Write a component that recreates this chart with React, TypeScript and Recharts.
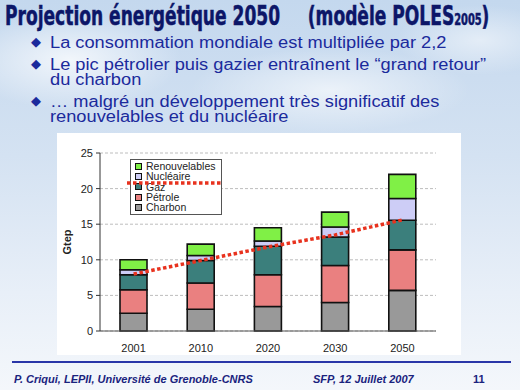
import React from 'react';
import {
  ComposedChart,
  Bar,
  Line,
  XAxis,
  YAxis,
  CartesianGrid,
  Legend,
} from 'recharts';

// Données (Gtep)
const annees = ['2001', '2010', '2020', '2030', '2050'];
const charbon = [2.5, 3.05, 3.45, 4.0, 5.7];
const petrole = [3.3, 3.7, 4.45, 5.2, 5.7];
const gaz = [2.1, 3.15, 4.0, 4.0, 4.15];
const nucleaire = [0.7, 0.7, 0.75, 1.4, 3.05];
const renouvelables = [1.4, 1.6, 1.85, 2.1, 3.4];
const tendance = [8.0, 9.9, 11.8, 13.5, 15.6];
const yTicks = [0, 5, 10, 15, 20, 25];
const bornes = [0, 1, 2, 3, 4, 5];

const series = [
  { key: 'charbon', nom: 'Charbon', couleur: '#999999' },
  { key: 'petrole', nom: 'Pétrole', couleur: '#ea8080' },
  { key: 'gaz', nom: 'Gaz', couleur: '#3b7f7c' },
  { key: 'nucleaire', nom: 'Nucléaire', couleur: '#cdcdf6' },
  { key: 'renouvelables', nom: 'Renouvelables', couleur: '#80f046' },
];

const donnees = annees.map((annee, i) => ({
  annee,
  charbon: charbon[i],
  petrole: petrole[i],
  gaz: gaz[i],
  nucleaire: nucleaire[i],
  renouvelables: renouvelables[i],
  tendance: tendance[i],
}));

const ROUGE = '#e8321e';
const NAVY = '#1b2a9c';
const SANS = '"Liberation Sans", Arial, sans-serif';

const Legende = () => (
  <div
    style={{
      position: 'relative',
      width: 86,
      height: 53,
      background: '#fff',
      border: '1px solid #555',
      padding: '1px 0 0 4px',
      boxSizing: 'content-box',
      fontFamily: SANS,
      fontSize: 10.5,
      color: '#222',
    }}
  >
    {[...series].reverse().map((s) => (
      <div key={s.key} style={{ display: 'flex', alignItems: 'center', height: 10.3, lineHeight: '10.3px' }}>
        <span
          style={{
            display: 'inline-block',
            width: 5,
            height: 5,
            background: s.couleur,
            border: '1.5px solid #111',
            marginRight: 4,
          }}
        />
        {s.nom}
      </div>
    ))}
    {/* trait pointillé rouge par-dessus la légende */}
    <svg style={{ position: 'absolute', left: -4, top: 21, overflow: 'visible' }} width={96} height={4}>
      <line x1={0} y1={2} x2={96} y2={2} stroke={ROUGE} strokeWidth={3.5} strokeDasharray="3.5 2.5" />
    </svg>
  </div>
);

const lignes: { texte: string; y: number; puce: boolean }[] = [
  { texte: 'La consommation mondiale est multipliée par 2,2', y: 48, puce: true },
  { texte: 'Le pic pétrolier puis gazier entraînent le “grand retour”', y: 70, puce: true },
  { texte: 'du charbon', y: 85, puce: false },
  { texte: '… malgré un développement très significatif des', y: 107, puce: true },
  { texte: 'renouvelables et du nucléaire', y: 122, puce: false },
];

export default function App() {
  return (
    <div
      style={{
        position: 'absolute',
        left: 0,
        top: 0,
        width: 520,
        height: 390,
        overflow: 'hidden',
        fontFamily: SANS,
        background:
          'radial-gradient(ellipse 160px 70px at 70px 60px, rgba(255,255,255,0.75), rgba(255,255,255,0) 70%),' +
          'radial-gradient(ellipse 200px 60px at 330px 90px, rgba(255,255,255,0.6), rgba(255,255,255,0) 70%),' +
          'radial-gradient(ellipse 120px 50px at 480px 40px, rgba(255,255,255,0.5), rgba(255,255,255,0) 70%),' +
          'linear-gradient(180deg, #c4d8ee 0%, #d4e2f2 40%, #e8eff8 75%, #f4f7fb 100%)',
      }}
    >
      {/* Titre */}
      <div
        style={{
          position: 'absolute',
          left: 5,
          top: 1,
          fontFamily: '"DejaVu Sans Condensed", "DejaVu Sans", sans-serif',
          fontWeight: 'bold',
          fontSize: 26,
          color: '#0c1668',
          whiteSpace: 'nowrap',
          WebkitTextStroke: '0.5px #0c1668',
          transform: 'scaleX(0.73)',
          transformOrigin: '0 0',
        }}
      >
        Projection énergétique 2050
        <span style={{ marginLeft: 38 }}>
          (modèle POLES<span style={{ fontSize: 15 }}>2005</span>)
        </span>
      </div>

      {/* Puces */}
      {lignes.map((l, i) => (
        <React.Fragment key={i}>
          {l.puce && (
            <span
              style={{
                position: 'absolute',
                left: 31,
                top: l.y - 13,
                fontSize: 13,
                lineHeight: '13px',
                color: NAVY,
              }}
            >
              ◆
            </span>
          )}
          <div
            style={{
              position: 'absolute',
              left: 50,
              top: l.y - 14,
              fontSize: 16,
              lineHeight: '17px',
              color: NAVY,
              whiteSpace: 'nowrap',
              transform: 'scaleX(1.14)',
              transformOrigin: '0 0',
            }}
          >
            {l.texte}
          </div>
        </React.Fragment>
      ))}

      {/* Graphique */}
      <div style={{ position: 'absolute', left: 57, top: 133, width: 404, height: 222, background: '#fff' }}>
        <ComposedChart
          width={404}
          height={222}
          data={donnees}
          margin={{ top: 20, right: 25, left: 10, bottom: 0 }}
          barSize={27}
        >
          <CartesianGrid vertical={false} stroke="#bdbdbd" strokeDasharray="3 2" />
          <XAxis
            xAxisId="bornes"
            type="number"
            domain={[0, 5]}
            ticks={bornes}
            tick={false}
            height={0}
            tickSize={4}
            axisLine={false}
            tickLine={{ stroke: '#555' }}
            allowDataOverflow
          />
          <XAxis
            dataKey="annee"
            height={24}
            tickLine={false}
            axisLine={{ stroke: '#555' }}
            tick={{ fill: '#222', fontSize: 11, fontFamily: SANS }}
            tickMargin={7}
          />
          <YAxis
            domain={[0, 25]}
            ticks={yTicks}
            width={33}
            tickSize={4}
            tickMargin={3}
            axisLine={{ stroke: '#333' }}
            tickLine={{ stroke: '#333' }}
            tick={{ fill: '#222', fontSize: 11, fontFamily: SANS }}
            label={{
              value: 'Gtep',
              angle: -90,
              position: 'insideLeft',
              offset: 0,
              style: { textAnchor: 'middle', fontWeight: 'bold', fontSize: 11, fill: '#222', fontFamily: SANS },
            }}
          />
          <Legend
            layout="vertical"
            align="center"
            verticalAlign="middle"
            wrapperStyle={{ left: 73, top: 26, width: 'auto' }}
            content={() => <Legende />}
          />
          {series.map((s) => (
            <Bar
              key={s.key}
              dataKey={s.key}
              name={s.nom}
              stackId="energie"
              fill={s.couleur}
              stroke="#111"
              strokeWidth={1.6}
              isAnimationActive={false}
            />
          ))}
          <Line
            type="linear"
            dataKey="tendance"
            stroke={ROUGE}
            strokeWidth={3.5}
            strokeDasharray="3.5 2.5"
            dot={false}
            activeDot={false}
            legendType="none"
            isAnimationActive={false}
          />
        </ComposedChart>
      </div>

      {/* Pied de page */}
      <div style={{ position: 'absolute', left: 12, top: 361, width: 499, height: 2, background: '#2a36a8' }} />
      <div
        style={{
          position: 'absolute',
          top: 372,
          left: 0,
          width: 520,
          fontSize: 11,
          fontWeight: 'bold',
          fontStyle: 'italic',
          color: '#1a237e',
          lineHeight: '14px',
        }}
      >
        <span style={{ position: 'absolute', left: 14 }}>P. Criqui, LEPII, Université de Grenoble-CNRS</span>
        <span style={{ position: 'absolute', left: 313 }}>SFP, 12 Juillet 2007</span>
        <span style={{ position: 'absolute', left: 473, fontStyle: 'normal' }}>11</span>
      </div>
    </div>
  );
}
